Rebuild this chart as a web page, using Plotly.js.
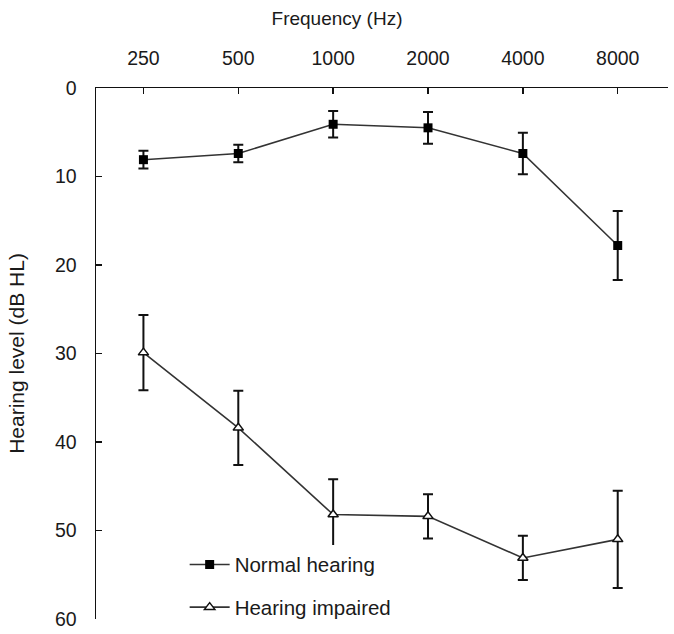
<!DOCTYPE html>
<html>
<head>
<meta charset="utf-8">
<script src="https://cdn.plot.ly/plotly-3.0.1.min.js"></script>
<style>html,body{margin:0;padding:0;background:#fff;}#chart{width:674px;height:634px;}</style>
</head>
<body>
<div id="chart"></div>
<script>
const frequencies = ["250", "500", "1000", "2000", "4000", "8000"];
const normalMean = [8.1, 7.4, 4.1, 4.5, 7.4, 17.8];
const normalSD = [1.0, 1.0, 1.5, 1.8, 2.35, 3.9];
const impairedMean = [29.9, 38.4, 48.2, 48.4, 53.1, 51.0];
const impairedSD = [4.25, 4.2, 4.0, 2.5, 2.5, 5.5];

const font = "Liberation Sans, Arial, sans-serif";

const traces = [
  {
    x: frequencies, y: normalMean, name: "Normal hearing", legendgroup: "a",
    type: "scatter", mode: "lines+markers",
    line: {color: "#333333", width: 1.6},
    marker: {symbol: "square", size: 9, color: "#000000"},
    error_y: {type: "data", array: normalSD, visible: true, color: "#111111", thickness: 2, width: 5}
  },
  {
    x: frequencies, y: impairedMean, name: "Hearing impaired", legendgroup: "b",
    type: "scatter", mode: "lines+markers",
    line: {color: "#333333", width: 1.6},
    marker: {symbol: "triangle-up", size: 9, color: "#ffffff", line: {color: "#111111", width: 1.5}},
    error_y: {type: "data", array: impairedSD, visible: true, color: "#111111", thickness: 2, width: 5}
  }
];

const layout = {
  width: 674, height: 634,
  margin: {l: 96, r: 6, t: 88, b: 12},
  paper_bgcolor: "#ffffff", plot_bgcolor: "#ffffff",
  font: {family: font, size: 19, color: "#1a1a1a"},
  title: {text: "Frequency (Hz)", xref: "container", x: 0.5, xanchor: "center",
          yref: "container", y: 1 - 18/634, yanchor: "middle",
          font: {family: font, size: 19, color: "#1a1a1a"}},
  showlegend: true,
  legend: {x: 0.155, xanchor: "left", y: 0.14, yanchor: "top", bgcolor: "#ffffff",
           traceorder: "grouped", tracegroupgap: 13, itemwidth: 40,
           font: {family: font, size: 20.5, color: "#1a1a1a"}},
  xaxis: {
    type: "category", side: "top", range: [-0.5, 5.53],
    showline: true, linecolor: "#111111", linewidth: 1.5, mirror: false,
    ticks: "inside", ticklen: 6, tickwidth: 1.5, tickcolor: "#111111",
    showgrid: false, zeroline: false, ticklabelstandoff: 14,
    tickfont: {family: font, size: 19.5, color: "#1a1a1a"}
  },
  yaxis: {
    range: [60, 0], dtick: 10, tick0: 0,
    showline: true, linecolor: "#111111", linewidth: 1.5,
    ticks: "inside", ticklen: 6, tickwidth: 1.5, tickcolor: "#111111",
    showgrid: false, zeroline: false, ticklabelstandoff: 14,
    tickfont: {family: font, size: 19.5, color: "#1a1a1a"},
    title: {text: "Hearing level (dB HL)", standoff: 24, font: {family: font, size: 21, color: "#1a1a1a"}}
  }
};

Plotly.newPlot("chart", traces, layout, {displayModeBar: false, staticPlot: true});
</script>
</body>
</html>
